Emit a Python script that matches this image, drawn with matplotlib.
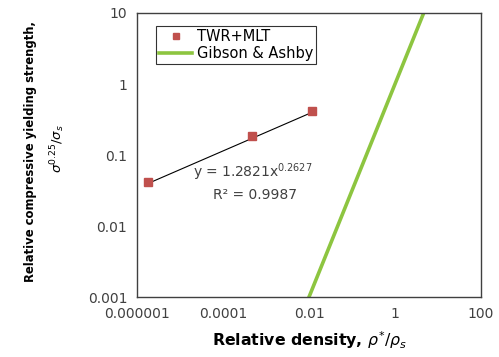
import numpy as np
import matplotlib.pyplot as plt

plt.rcParams['font.family'] = ['DejaVu Sans']

# measured points (TWR+MLT)
rel_density = [1.8e-6, 4.7e-4, 0.0117]
rel_strength = [0.042, 0.186, 0.417]

# power-law trend line, coefficients as printed on the chart
fit_a = 1.2821
fit_b = 0.2627
fit_r2 = 0.9987

# Gibson & Ashby line
ga_x = [0.01, 1, 100]
ga_y = [0.001, 1, 1000]

fig = plt.figure(figsize=(4.99, 3.57), dpi=100)
ax = fig.add_axes([0.2745, 0.168, 0.6895, 0.7956])

ax.plot(ga_x, ga_y, color='#8dc540', lw=2.6, label='Gibson & Ashby', zorder=2)

xt = np.logspace(np.log10(rel_density[0]), np.log10(rel_density[-1]), 50)
ax.plot(xt, fit_a * xt**fit_b, color='black', lw=0.8, zorder=3)
ax.plot(rel_density, rel_strength, 's', color='#c0504d', ms=6, ls='none',
        label='TWR+MLT', zorder=4)

ax.set_xscale('log')
ax.set_yscale('log')
ax.set_xlim(1e-6, 100)
ax.set_ylim(0.001, 10)
ax.set_xticks([1e-6, 1e-4, 1e-2, 1, 100])
ax.set_xticklabels(['0.000001', '0.0001', '0.01', '1', '100'])
ax.set_yticks([0.001, 0.01, 0.1, 1, 10])
ax.set_yticklabels(['0.001', '0.01', '0.1', '1', '10'])
ax.minorticks_off()
ax.tick_params(length=0, labelsize=10, colors='#404040', pad=7)
for s in ax.spines.values():
    s.set_color('#404040')
    s.set_linewidth(1.0)

ax.text(0.335, 0.44, r'y = 1.2821x$^{0.2627}$', transform=ax.transAxes,
        ha='center', va='center', fontsize=10, color='#404040')
ax.text(0.342, 0.36, 'R² = %.4f' % fit_r2, transform=ax.transAxes,
        ha='center', va='center', fontsize=10, color='#404040')

ax.set_xlabel(r'Relative density, $\rho^{*}/\rho_{s}$', fontsize=11.3,
              fontweight='bold', labelpad=6)
fig.text(0.062, 0.575, 'Relative compressive yielding strength,', rotation=90,
         ha='center', va='center', fontsize=8.4, fontweight='bold')
fig.text(0.115, 0.585, r'$\sigma^{0.25}/\sigma_{s}$', rotation=90,
         ha='center', va='center', fontsize=9.5)

h, l = ax.get_legend_handles_labels()
leg = ax.legend(h[::-1], l[::-1], loc='upper left', bbox_to_anchor=(0.055, 0.955),
                fontsize=10.5, frameon=True, fancybox=False, borderpad=0.2,
                labelspacing=0.15, handlelength=2.3, handletextpad=0.3,
                borderaxespad=0, markerscale=0.75)
leg.get_frame().set_edgecolor('black')
leg.get_frame().set_linewidth(0.8)

fig.savefig('out.png', dpi=100)
